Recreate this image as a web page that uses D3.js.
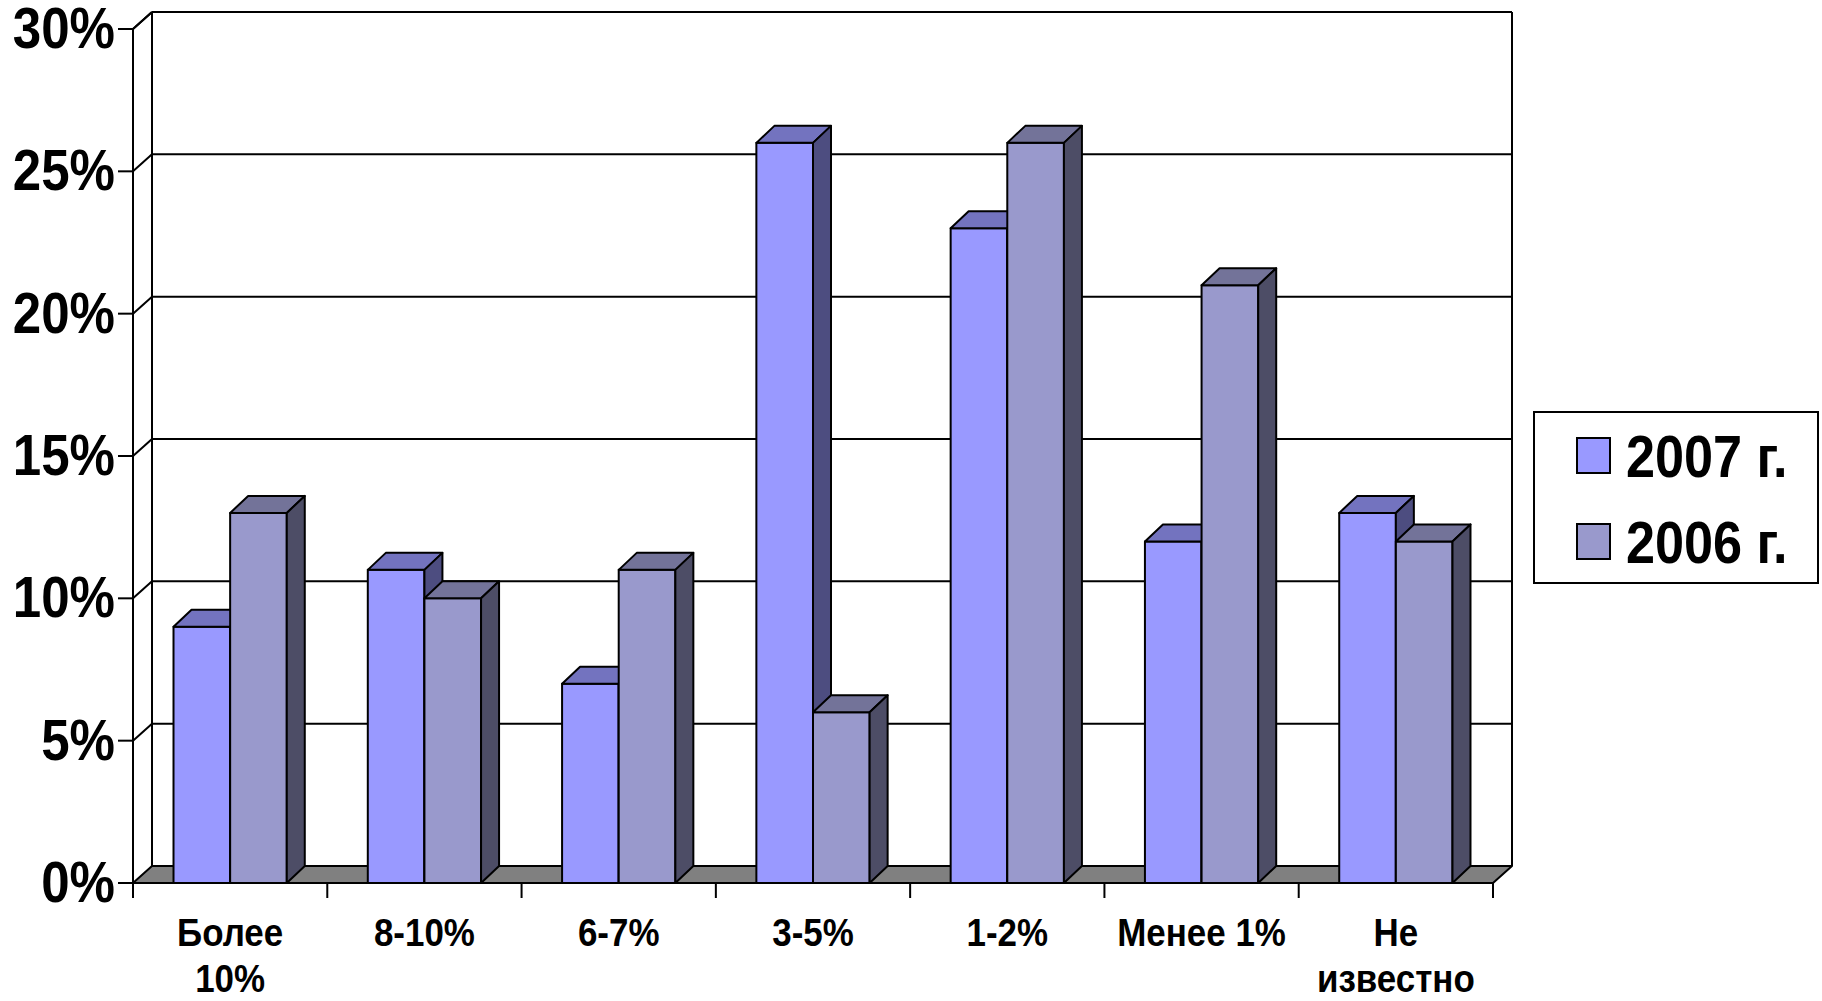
<!DOCTYPE html>
<html>
<head>
<meta charset="utf-8">
<script src="https://cdn.jsdelivr.net/npm/d3@7"></script>
<style>
  html, body { margin: 0; padding: 0; background: #fff; }
  svg { display: block; font-family: "Liberation Sans", Arial, sans-serif; font-weight: bold; }
</style>
</head>
<body>
<div id="chart"></div>
<script>
// data
const categories = ["Более\n10%", "8-10%", "6-7%", "3-5%", "1-2%", "Менее 1%", "Не\nизвестно"];
const seriesNames = ["2007 г.", "2006 г."];
const values2007 = [9, 11, 7, 26, 23, 12, 13];
const values2006 = [13, 10, 11, 6, 26, 21, 12];
const yTicks = [0, 5, 10, 15, 20, 25, 30];

const frontColors = ["#9999ff", "#9999cc"];
const topColors = ["#7373bf", "#737399"];
const sideColors = ["#4d4d80", "#4d4d66"];

const W = 1822, H = 1001;
const plotLeft = 133, plotRight = 1493, plotBottom = 883, plotTop = 29;
const wallDx = 19, wallDy = 17;   // depth of the walls / floor
const barDx = 18, barDy = 17;     // depth of each bar

const svg = d3.select('#chart').append('svg')
  .attr('width', W).attr('height', H);

svg.append('rect').attr('width', W).attr('height', H).attr('fill', '#fff');

const x = d3.scaleBand()
  .domain(categories)
  .range([plotLeft, plotRight])
  .paddingInner(0.417)
  .paddingOuter(0.2085);

const xs = d3.scaleBand()
  .domain(seriesNames)
  .range([0, x.bandwidth()]);

const y = d3.scaleLinear()
  .domain([0, 30])
  .range([plotBottom, plotTop]);

const rows = categories.map((c, i) => ({ cat: c, vals: [values2007[i], values2006[i]] }));

// back wall frame + gridlines
const wall = svg.append('g').attr('stroke', '#000').attr('stroke-width', 2).attr('fill', 'none');
wall.selectAll('line.grid')
  .data(yTicks.filter(d => d > 0))
  .enter().append('line')
    .attr('x1', plotLeft + wallDx).attr('x2', plotRight + wallDx)
    .attr('y1', d => y(d) - wallDy).attr('y2', d => y(d) - wallDy);
// diagonal grid on the side wall
wall.selectAll('line.side')
  .data(yTicks.filter(d => d > 0))
  .enter().append('line')
    .attr('x1', plotLeft).attr('x2', plotLeft + wallDx)
    .attr('y1', d => y(d)).attr('y2', d => y(d) - wallDy);
wall.append('line')
  .attr('x1', plotLeft + wallDx).attr('x2', plotLeft + wallDx)
  .attr('y1', y(30) - wallDy).attr('y2', y(0) - wallDy);
wall.append('line')
  .attr('x1', plotRight + wallDx).attr('x2', plotRight + wallDx)
  .attr('y1', y(30) - wallDy).attr('y2', y(0) - wallDy);

// floor
svg.append('path')
  .attr('d', `M${plotLeft},${y(0)}L${plotRight},${y(0)}L${plotRight + wallDx},${y(0) - wallDy}L${plotLeft + wallDx},${y(0) - wallDy}Z`)
  .attr('fill', '#808080')
  .attr('stroke', '#000')
  .attr('stroke-width', 2)
  .attr('stroke-linejoin', 'round');

// bars
const bars = svg.append('g').attr('stroke', '#000').attr('stroke-width', 2).attr('stroke-linejoin', 'round');
rows.forEach(r => {
  r.vals.forEach((v, si) => {
    const x0 = x(r.cat) + xs(seriesNames[si]);
    const x1 = x0 + xs.bandwidth();
    const y0 = y(0), y1 = y(v);
    bars.append('rect')
      .attr('x', x0).attr('y', y1)
      .attr('width', x1 - x0).attr('height', y0 - y1)
      .attr('fill', frontColors[si]);
    bars.append('path')
      .attr('d', `M${x0},${y1}L${x0 + barDx},${y1 - barDy}L${x1 + barDx},${y1 - barDy}L${x1},${y1}Z`)
      .attr('fill', topColors[si]);
    bars.append('path')
      .attr('d', `M${x1},${y1}L${x1 + barDx},${y1 - barDy}L${x1 + barDx},${y0 - barDy}L${x1},${y0}Z`)
      .attr('fill', sideColors[si]);
  });
});

// axes
const axes = svg.append('g').attr('stroke', '#000').attr('stroke-width', 2);
axes.append('line')
  .attr('x1', plotLeft).attr('x2', plotLeft)
  .attr('y1', y(30)).attr('y2', y(0) + 15);
axes.append('line')
  .attr('x1', plotLeft).attr('x2', plotRight)
  .attr('y1', y(0)).attr('y2', y(0));
axes.append('line')
  .attr('x1', plotLeft).attr('x2', plotLeft + wallDx)
  .attr('y1', y(30)).attr('y2', y(30) - wallDy);
axes.selectAll('line.ytick')
  .data(yTicks)
  .enter().append('line')
    .attr('x1', plotLeft - 15).attr('x2', plotLeft)
    .attr('y1', d => y(d)).attr('y2', d => y(d));
const bounds = categories.map(c => x(c) - x.step() * x.paddingOuter()).concat([plotRight]);
axes.selectAll('line.xtick')
  .data(bounds)
  .enter().append('line')
    .attr('x1', d => d).attr('x2', d => d)
    .attr('y1', y(0)).attr('y2', y(0) + 15);

// y labels
svg.selectAll('text.ylab')
  .data(yTicks)
  .enter().append('text')
    .attr('class', 'ylab')
    .attr('transform', d => `translate(115,${y(d) + 19}) scale(0.88,1)`)
    .attr('text-anchor', 'end')
    .attr('font-size', 58)
    .text(d => d + '%');

// x labels
const xl = svg.selectAll('text.xlab')
  .data(categories)
  .enter().append('text')
    .attr('class', 'xlab')
    .attr('transform', d => `translate(${x(d) + x.bandwidth() / 2},946) scale(0.92,1)`)
    .attr('text-anchor', 'middle')
    .attr('font-size', 38);
xl.selectAll('tspan')
  .data(d => d.split('\n'))
  .enter().append('tspan')
    .attr('x', 0)
    .attr('y', (d, i) => i * 46)
    .text(d => d);

// legend
const lg = svg.append('g');
lg.append('rect')
  .attr('x', 1534).attr('y', 412).attr('width', 284).attr('height', 171)
  .attr('fill', '#fff').attr('stroke', '#000').attr('stroke-width', 2);
const li = lg.selectAll('g.item')
  .data(seriesNames)
  .enter().append('g')
    .attr('transform', (d, i) => `translate(0,${i * 86})`);
li.append('rect')
  .attr('x', 1577).attr('y', 438).attr('width', 33).attr('height', 35)
  .attr('fill', (d, i) => frontColors[i])
  .attr('stroke', '#000').attr('stroke-width', 2);
li.append('text')
  .attr('transform', 'translate(1626,477) scale(0.87,1)')
  .attr('font-size', 60)
  .text(d => d);
</script>
</body>
</html>
